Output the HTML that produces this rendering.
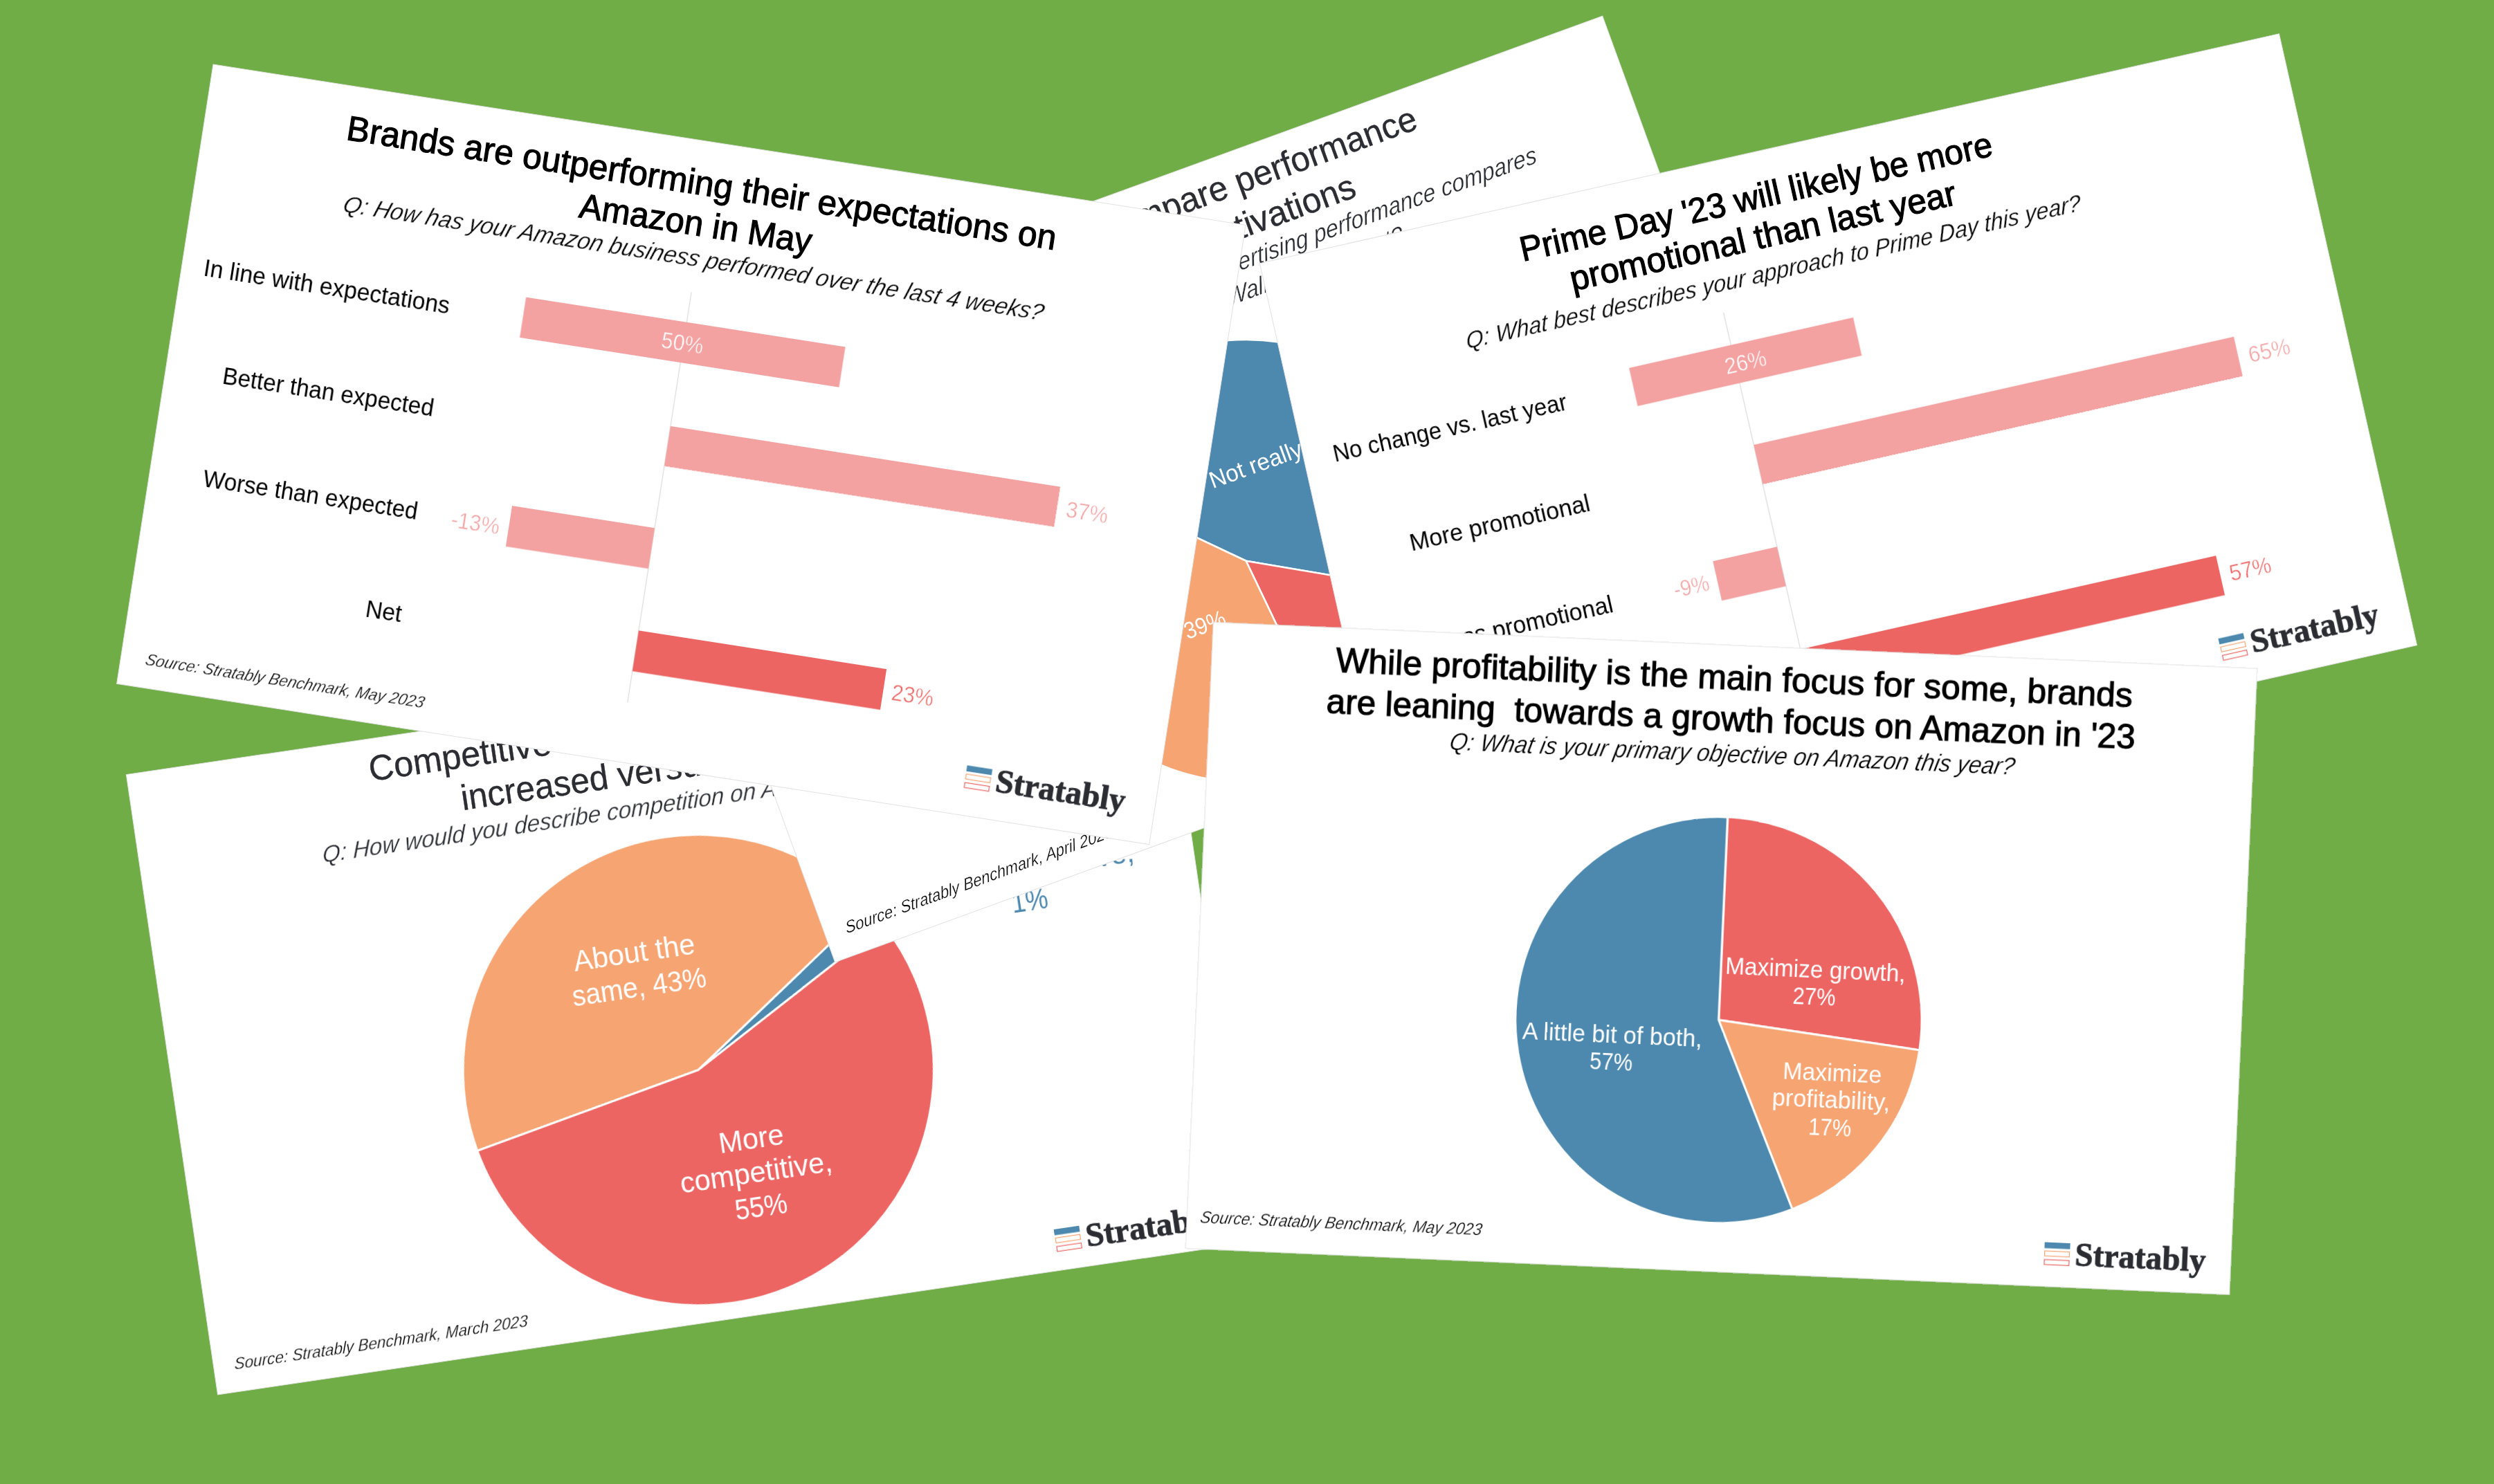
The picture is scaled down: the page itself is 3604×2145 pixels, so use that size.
<!DOCTYPE html>
<html><head><meta charset="utf-8"><title>Stratably Benchmark</title>
<style>html,body{margin:0;padding:0;background:#70AD47;}body{width:3604px;height:2145px;overflow:hidden;font-family:"Liberation Sans",sans-serif;}</style>
</head><body>
<svg width="3604" height="2145" viewBox="0 0 3604 2145" style="display:block;will-change:transform">
<g transform="translate(182.4,1119.6) rotate(-8.39)">
<rect x="0" y="0" width="1510" height="906" fill="#fff" stroke="#E2E2E2" stroke-width="1"/>
<g font-family="Liberation Sans, sans-serif">
<text x="348.0" y="61.0" font-size="51.50" fill="#2B2D33" textLength="825.7" lengthAdjust="spacingAndGlyphs" stroke="#2B2D33" stroke-width="0.35">Competitive intensity on Amazon has</text>
<text x="473.5" y="122.0" font-size="51.50" fill="#2B2D33" textLength="575.9" lengthAdjust="spacingAndGlyphs" stroke="#2B2D33" stroke-width="0.35">increased versus last year</text>
<text x="262.0" y="168.0" font-size="35.54" fill="#2B2D33" font-style="italic" transform="translate(0,168.0) skewX(-9) translate(0,-168.0)" stroke="#fff" stroke-width="0.3" textLength="1024.8" lengthAdjust="spacingAndGlyphs">Q: How would you describe competition on Amazon versus last year?</text>
<path d="M755.6,543.0 L422.6,612.0 A340.1,340.1 0 0 1 1032.8,346.0 Z" fill="#F6A472" stroke="#fff" stroke-width="3" stroke-linejoin="round"/>
<path d="M755.6,543.0 L1032.8,346.0 A340.1,340.1 0 0 1 1051.0,374.5 Z" fill="#4D89AE" stroke="#fff" stroke-width="3" stroke-linejoin="round"/>
<path d="M755.6,543.0 L1051.0,374.5 A340.1,340.1 0 1 1 422.6,612.0 Z" fill="#EC6563" stroke="#fff" stroke-width="3" stroke-linejoin="round"/>
<text x="688.5" y="376.0" font-size="42.23" fill="#fff" text-anchor="middle" textLength="177.1" lengthAdjust="spacingAndGlyphs">About the</text>
<text x="688.5" y="426.0" font-size="42.23" fill="#fff" text-anchor="middle" textLength="195.5" lengthAdjust="spacingAndGlyphs">same, 43%</text>
<text x="816.5" y="666.5" font-size="42.23" fill="#fff" text-anchor="middle" textLength="94.4" lengthAdjust="spacingAndGlyphs">More</text>
<text x="816.5" y="716.0" font-size="42.23" fill="#fff" text-anchor="middle" textLength="221.7" lengthAdjust="spacingAndGlyphs">competitive,</text>
<text x="816.5" y="766.0" font-size="42.23" fill="#fff" text-anchor="middle" textLength="76.1" lengthAdjust="spacingAndGlyphs">55%</text>
<text x="1265.0" y="337.0" font-size="42.23" fill="#4D89AE" text-anchor="middle" textLength="318.1" lengthAdjust="spacingAndGlyphs">Less competitive,</text>
<text x="1265.0" y="384.5" font-size="42.23" fill="#4D89AE" text-anchor="middle" textLength="53.1" lengthAdjust="spacingAndGlyphs">1%</text>
<text x="29.0" y="874.0" font-size="24.46" fill="#000" font-style="italic" transform="translate(0,874.0) skewX(-9) translate(0,-874.0)" stroke="#fff" stroke-width="0.3" textLength="428.6" lengthAdjust="spacingAndGlyphs">Source: Stratably Benchmark, March 2023</text>
<rect x="1230.0" y="846.0" width="37.0" height="8.6" fill="#4D89AE"/>
<rect x="1230.6" y="858.6" width="35.8" height="7.2" fill="none" stroke="#F6A472" stroke-width="1.2"/>
<rect x="1230.6" y="871.1" width="35.8" height="7.2" fill="none" stroke="#EC6563" stroke-width="1.2"/>
<text x="1274.5" y="877.8" font-size="49" font-weight="bold" fill="#2B2D33" stroke="#2B2D33" stroke-width="0.9" font-family="Liberation Serif, serif" textLength="189" lengthAdjust="spacingAndGlyphs">Stratably</text>
</g></g>
<g transform="translate(896.8,539.5) rotate(-20.0)">
<rect x="0" y="0" width="1510" height="906" fill="#fff" stroke="#E2E2E2" stroke-width="1"/>
<g font-family="Liberation Sans, sans-serif">
<text x="1206.0" y="62.0" font-size="50.47" fill="#2B2D33" text-anchor="end" textLength="896.1" lengthAdjust="spacingAndGlyphs" stroke="#2B2D33" stroke-width="0.35">Brands struggle to compare performance</text>
<text x="1089.0" y="124.0" font-size="50.47" fill="#2B2D33" text-anchor="end" textLength="665.7" lengthAdjust="spacingAndGlyphs" stroke="#2B2D33" stroke-width="0.35">across retail media activations</text>
<text x="1349.5" y="167.0" font-size="35.54" fill="#2B2D33" text-anchor="end" font-style="italic" transform="translate(0,167.0) skewX(-9) translate(0,-167.0)" stroke="#fff" stroke-width="0.3" textLength="1058.6" lengthAdjust="spacingAndGlyphs">Q: Do you have a sense of how your advertising performance compares</text>
<text x="858.0" y="209.5" font-size="35.54" fill="#2B2D33" font-style="italic" transform="translate(0,209.5) skewX(-9) translate(0,-209.5)" stroke="#fff" stroke-width="0.3" textLength="271.0" lengthAdjust="spacingAndGlyphs">Walmart Connect?</text>
<path d="M756.5,564.0 L531.6,336.7 A319.8,319.8 0 0 1 1034.6,722.0 Z" fill="#4D89AE" stroke="#fff" stroke-width="2.6" stroke-linejoin="round"/>
<path d="M756.5,564.0 L1034.6,722.0 A319.8,319.8 0 0 1 787.7,882.3 Z" fill="#EC6563" stroke="#fff" stroke-width="2.6" stroke-linejoin="round"/>
<path d="M756.5,564.0 L787.7,882.3 A319.8,319.8 0 0 1 531.6,336.7 Z" fill="#F6A472" stroke="#fff" stroke-width="2.6" stroke-linejoin="round"/>
<text x="747.0" y="449.5" font-size="34.30" fill="#fff" textLength="140.6" lengthAdjust="spacingAndGlyphs">Not really</text>
<text x="638.0" y="642.0" font-size="34.30" fill="#fff" textLength="61.8" lengthAdjust="spacingAndGlyphs">39%</text>
<text x="30.0" y="873.0" font-size="24.46" fill="#000" font-style="italic" transform="translate(0,873.0) skewX(-9) translate(0,-873.0)" stroke="#fff" stroke-width="0.3" textLength="410.6" lengthAdjust="spacingAndGlyphs">Source: Stratably Benchmark, April 2023</text>
<rect x="1232.0" y="840.0" width="37.0" height="8.6" fill="#4D89AE"/>
<rect x="1232.6" y="852.6" width="35.8" height="7.2" fill="none" stroke="#F6A472" stroke-width="1.2"/>
<rect x="1232.6" y="865.1" width="35.8" height="7.2" fill="none" stroke="#EC6563" stroke-width="1.2"/>
<text x="1276.5" y="871.8" font-size="49" font-weight="bold" fill="#2B2D33" stroke="#2B2D33" stroke-width="0.9" font-family="Liberation Serif, serif" textLength="189" lengthAdjust="spacingAndGlyphs">Stratably</text>
</g></g>
<g transform="translate(308.05,93.03) rotate(8.85)">
<rect x="0" y="0" width="1510" height="906" fill="#fff" stroke="#E2E2E2" stroke-width="1"/>
<g font-family="Liberation Sans, sans-serif">
<text x="205.5" y="78.0" font-size="50.47" fill="#000" textLength="1037.0" lengthAdjust="spacingAndGlyphs" stroke="#000" stroke-width="1.15">Brands are outperforming their expectations on</text>
<text x="555.0" y="137.0" font-size="50.47" fill="#000" textLength="339.0" lengthAdjust="spacingAndGlyphs" stroke="#000" stroke-width="1.15">Amazon in May</text>
<text x="216.0" y="181.3" font-size="35.54" fill="#000" font-style="italic" transform="translate(0,181.3) skewX(-9) translate(0,-181.3)" stroke="#fff" stroke-width="0.3" textLength="1023.0" lengthAdjust="spacingAndGlyphs">Q: How has your Amazon business performed over the last 4 weeks?</text>
<line x1="733.5" y1="219" x2="733.5" y2="819" stroke="#DDDDDD" stroke-width="1.3"/>
<rect x="498.5" y="263.0" width="467.0" height="59.0" fill="#F4A1A2"/>
<rect x="733.5" y="415.0" width="570.0" height="58.5" fill="#F4A1A2"/>
<rect x="525.0" y="564.0" width="208.5" height="59.5" fill="#F4A1A2"/>
<rect x="733.5" y="714.0" width="362.5" height="59.5" fill="#EC6563"/>
<text x="732.0" y="305.0" font-size="33.99" fill="#fff" text-anchor="middle" stroke="#F4A1A2" stroke-width="0.5" textLength="61.0" lengthAdjust="spacingAndGlyphs">50%</text>
<text x="1347.5" y="456.5" font-size="33.99" fill="#F4A1A2" text-anchor="middle" stroke="#fff" stroke-width="0.5" textLength="61.0" lengthAdjust="spacingAndGlyphs">37%</text>
<text x="476.5" y="608.0" font-size="33.99" fill="#F4A1A2" text-anchor="middle" stroke="#fff" stroke-width="0.5" textLength="70.4" lengthAdjust="spacingAndGlyphs">-13%</text>
<text x="1139.0" y="756.5" font-size="33.99" fill="#EC6563" text-anchor="middle" stroke="#fff" stroke-width="0.5" textLength="61.0" lengthAdjust="spacingAndGlyphs">23%</text>
<text x="391.5" y="304.0" font-size="34.51" fill="#000" text-anchor="end" textLength="359.5" lengthAdjust="spacingAndGlyphs">In line with expectations</text>
<text x="391.5" y="454.0" font-size="34.51" fill="#000" text-anchor="end" textLength="308.6" lengthAdjust="spacingAndGlyphs">Better than expected</text>
<text x="391.5" y="604.5" font-size="34.51" fill="#000" text-anchor="end" textLength="313.6" lengthAdjust="spacingAndGlyphs">Worse than expected</text>
<text x="391.5" y="755.0" font-size="34.51" fill="#000" text-anchor="end" textLength="52.6" lengthAdjust="spacingAndGlyphs">Net</text>
<text x="35.0" y="873.0" font-size="24.46" fill="#000" font-style="italic" transform="translate(0,873.0) skewX(-9) translate(0,-873.0)" stroke="#fff" stroke-width="0.3" textLength="407.0" lengthAdjust="spacingAndGlyphs">Source: Stratably Benchmark, May 2023</text>
<rect x="1232.5" y="833.5" width="37.0" height="8.6" fill="#4D89AE"/>
<rect x="1233.1" y="846.1" width="35.8" height="7.2" fill="none" stroke="#F6A472" stroke-width="1.2"/>
<rect x="1233.1" y="858.6" width="35.8" height="7.2" fill="none" stroke="#EC6563" stroke-width="1.2"/>
<text x="1277.0" y="865.3" font-size="49" font-weight="bold" fill="#2B2D33" stroke="#2B2D33" stroke-width="0.9" font-family="Liberation Serif, serif" textLength="189" lengthAdjust="spacingAndGlyphs">Stratably</text>
</g></g>
<g transform="translate(1820.4,380.7) rotate(-12.7)">
<rect x="0" y="0" width="1510" height="906" fill="#fff" stroke="#E2E2E2" stroke-width="1"/>
<g font-family="Liberation Sans, sans-serif">
<text x="371.3" y="81.0" font-size="50.47" fill="#000" textLength="698.5" lengthAdjust="spacingAndGlyphs" stroke="#000" stroke-width="1.15">Prime Day '23 will likely be more</text>
<text x="432.4" y="138.4" font-size="50.47" fill="#000" textLength="571.0" lengthAdjust="spacingAndGlyphs" stroke="#000" stroke-width="1.15">promotional than last year</text>
<text x="264.6" y="186.8" font-size="35.54" fill="#000" font-style="italic" transform="translate(0,186.8) skewX(-9) translate(0,-186.8)" stroke="#fff" stroke-width="0.3" textLength="910.0" lengthAdjust="spacingAndGlyphs">Q: What best describes your approach to Prime Day this year?</text>
<line x1="638.2" y1="216.8" x2="639.9" y2="821.3" stroke="#DDDDDD" stroke-width="1.3"/>
<rect x="487.4" y="264.8" width="332.0" height="56.5" fill="#F4A1A2"/>
<rect x="638.8" y="412.8" width="711.0" height="58.5" fill="#F4A1A2"/>
<rect x="544.2" y="563.9" width="95.0" height="58.5" fill="#F4A1A2"/>
<rect x="639.6" y="715.9" width="615.5" height="58.5" fill="#EC6563"/>
<text x="653.4" y="304.8" font-size="33.99" fill="#fff" text-anchor="middle" stroke="#F4A1A2" stroke-width="0.5" textLength="61.0" lengthAdjust="spacingAndGlyphs">26%</text>
<text x="1395.3" y="455.2" font-size="33.99" fill="#F4A1A2" text-anchor="middle" stroke="#fff" stroke-width="0.5" textLength="61.0" lengthAdjust="spacingAndGlyphs">65%</text>
<text x="505.7" y="604.2" font-size="33.99" fill="#F4A1A2" text-anchor="middle" stroke="#fff" stroke-width="0.5" textLength="52.1" lengthAdjust="spacingAndGlyphs">-9%</text>
<text x="1299.2" y="756.5" font-size="33.99" fill="#EC6563" text-anchor="middle" stroke="#fff" stroke-width="0.5" textLength="61.0" lengthAdjust="spacingAndGlyphs">57%</text>
<text x="388.4" y="304.0" font-size="34.51" fill="#000" text-anchor="end" textLength="345.5" lengthAdjust="spacingAndGlyphs">No change vs. last year</text>
<text x="388.8" y="454.0" font-size="34.51" fill="#000" text-anchor="end" textLength="266.0" lengthAdjust="spacingAndGlyphs">More promotional</text>
<text x="389.2" y="604.0" font-size="34.51" fill="#000" text-anchor="end" textLength="259.2" lengthAdjust="spacingAndGlyphs">Less promotional</text>
<text x="389.7" y="756.0" font-size="34.51" fill="#000" text-anchor="end" textLength="52.6" lengthAdjust="spacingAndGlyphs">Net</text>
<text x="36.0" y="877.0" font-size="24.46" fill="#000" font-style="italic" transform="translate(0,877.0) skewX(-9) translate(0,-877.0)" stroke="#fff" stroke-width="0.3" textLength="407.0" lengthAdjust="spacingAndGlyphs">Source: Stratably Benchmark, May 2023</text>
<rect x="1231.9" y="833.6" width="37.0" height="8.6" fill="#4D89AE"/>
<rect x="1232.5" y="846.2" width="35.8" height="7.2" fill="none" stroke="#F6A472" stroke-width="1.2"/>
<rect x="1232.5" y="858.7" width="35.8" height="7.2" fill="none" stroke="#EC6563" stroke-width="1.2"/>
<text x="1276.4" y="865.4" font-size="49" font-weight="bold" fill="#2B2D33" stroke="#2B2D33" stroke-width="0.9" font-family="Liberation Serif, serif" textLength="189" lengthAdjust="spacingAndGlyphs">Stratably</text>
</g></g>
<g transform="translate(1753.3,899.3) rotate(2.54)">
<rect x="0" y="0" width="1510" height="906" fill="#fff" stroke="#E2E2E2" stroke-width="1"/>
<g font-family="Liberation Sans, sans-serif">
<text x="179.5" y="63.5" font-size="50.47" fill="#000" textLength="1152.5" lengthAdjust="spacingAndGlyphs" stroke="#000" stroke-width="1.15">While profitability is the main focus for some, brands</text>
<text x="168.5" y="124.0" font-size="50.47" fill="#000" textLength="1170.0" lengthAdjust="spacingAndGlyphs" stroke="#000" stroke-width="1.15">are leaning  towards a growth focus on Amazon in '23</text>
<text x="347.5" y="169.5" font-size="35.54" fill="#000" font-style="italic" transform="translate(0,169.5) skewX(-9) translate(0,-169.5)" stroke="#fff" stroke-width="0.3" textLength="817.0" lengthAdjust="spacingAndGlyphs">Q: What is your primary objective on Amazon this year?</text>
<path d="M755.0,542.0 L755.0,248.5 A293.5,293.5 0 0 1 1046.9,572.7 Z" fill="#EC6563" stroke="#fff" stroke-width="3" stroke-linejoin="round"/>
<path d="M755.0,542.0 L1046.9,572.7 A293.5,293.5 0 0 1 873.4,810.5 Z" fill="#F6A472" stroke="#fff" stroke-width="3" stroke-linejoin="round"/>
<path d="M755.0,542.0 L873.4,810.5 A293.5,293.5 0 1 1 755.0,248.5 Z" fill="#4D89AE" stroke="#fff" stroke-width="3" stroke-linejoin="round"/>
<text x="891.5" y="474.5" font-size="34.30" fill="#fff" text-anchor="middle" textLength="260.7" lengthAdjust="spacingAndGlyphs">Maximize growth,</text>
<text x="891.5" y="513.5" font-size="34.30" fill="#fff" text-anchor="middle" textLength="61.8" lengthAdjust="spacingAndGlyphs">27%</text>
<text x="922.5" y="623.0" font-size="34.30" fill="#fff" text-anchor="middle" textLength="143.0" lengthAdjust="spacingAndGlyphs">Maximize</text>
<text x="922.5" y="662.0" font-size="34.30" fill="#fff" text-anchor="middle" textLength="170.6" lengthAdjust="spacingAndGlyphs">profitability,</text>
<text x="922.5" y="701.5" font-size="34.30" fill="#fff" text-anchor="middle" textLength="61.8" lengthAdjust="spacingAndGlyphs">17%</text>
<text x="602.5" y="581.5" font-size="34.30" fill="#fff" text-anchor="middle" textLength="260.2" lengthAdjust="spacingAndGlyphs">A little bit of both,</text>
<text x="602.5" y="621.0" font-size="34.30" fill="#fff" text-anchor="middle" textLength="61.8" lengthAdjust="spacingAndGlyphs">57%</text>
<text x="18.5" y="868.0" font-size="24.46" fill="#000" font-style="italic" transform="translate(0,868.0) skewX(-9) translate(0,-868.0)" stroke="#fff" stroke-width="0.3" textLength="407.0" lengthAdjust="spacingAndGlyphs">Source: Stratably Benchmark, May 2023</text>
<rect x="1240.0" y="842.0" width="37.0" height="8.6" fill="#4D89AE"/>
<rect x="1240.6" y="854.6" width="35.8" height="7.2" fill="none" stroke="#F6A472" stroke-width="1.2"/>
<rect x="1240.6" y="867.1" width="35.8" height="7.2" fill="none" stroke="#EC6563" stroke-width="1.2"/>
<text x="1284.5" y="873.8" font-size="49" font-weight="bold" fill="#2B2D33" stroke="#2B2D33" stroke-width="0.9" font-family="Liberation Serif, serif" textLength="189" lengthAdjust="spacingAndGlyphs">Stratably</text>
</g></g>
</svg>
</body></html>
